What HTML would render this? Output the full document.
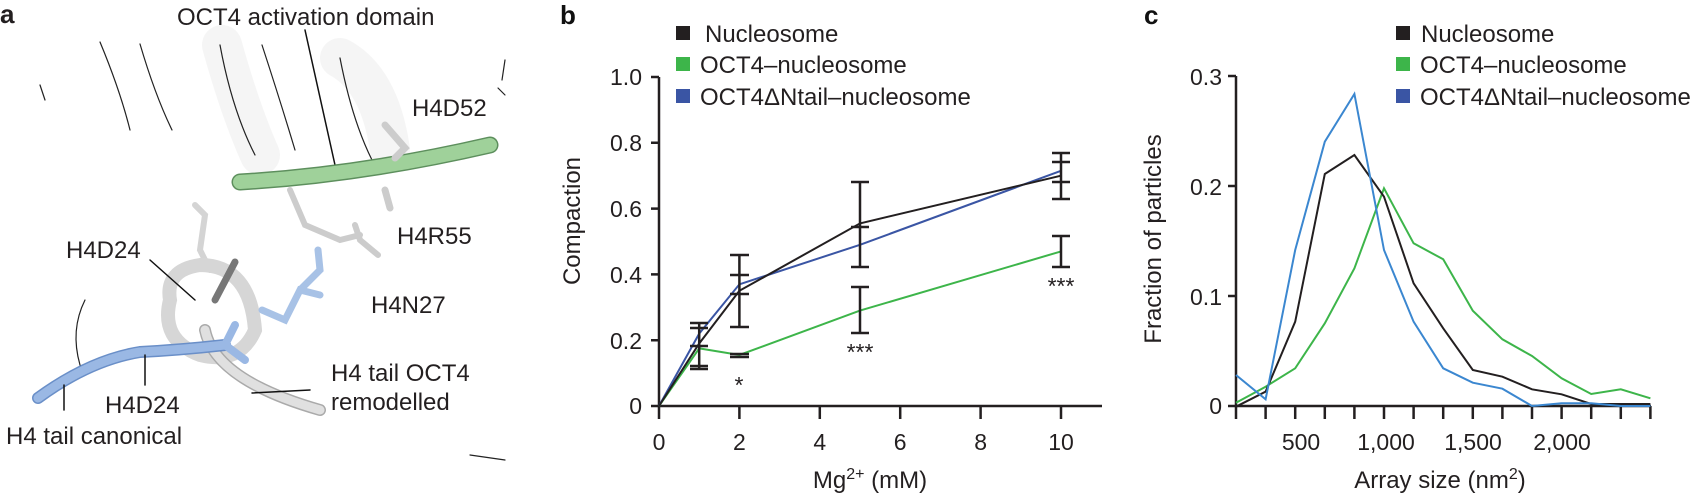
<!DOCTYPE html>
<html><head><meta charset="utf-8"><style>
html,body{margin:0;padding:0;background:#fff;}
svg{display:block;font-family:"Liberation Sans",Arial,sans-serif;}
</style></head><body>
<svg width="1691" height="493" viewBox="0 0 1691 493" xmlns="http://www.w3.org/2000/svg">
<!-- Panel a -->
<g fill="none" stroke-linecap="round">
  <path d="M100 42 Q120 90 130 130" stroke="#222" stroke-width="1.2"/>
  <path d="M140 44 Q155 95 172 130" stroke="#222" stroke-width="1.2"/>
  <path d="M40 85 L45 100" stroke="#222" stroke-width="1.2"/>
  <path d="M222 45 Q240 110 260 155" stroke="#eee" stroke-width="40" opacity="0.6"/>
  <path d="M220 45 Q232 110 255 155" stroke="#222" stroke-width="1.2"/>
  <path d="M262 45 Q280 100 295 150" stroke="#222" stroke-width="1.2"/>
  <path d="M340 58 Q380 80 390 150" stroke="#eee" stroke-width="40" opacity="0.6"/>
  <path d="M340 58 Q352 120 372 160" stroke="#222" stroke-width="1.2"/>
  <path d="M305 30 L335 165" stroke="#111" stroke-width="1.5"/>
  <path d="M505 60 L502 80 M498 88 L505 95" stroke="#222" stroke-width="1.2"/>
  <path d="M240 182 Q360 175 490 145" stroke="#5d8f5d" stroke-width="17"/>
  <path d="M240 182 Q360 175 490 145" stroke="#9fd19a" stroke-width="14"/>
  <path d="M385 125 L405 148 L395 158 M385 190 L390 208" stroke="#ccc" stroke-width="7"/>
  <path d="M290 190 L305 225 L340 240 L360 235 M355 225 L360 240 L378 255" stroke="#ccc" stroke-width="6"/>
  <path d="M195 205 L205 215 L200 250 L210 270" stroke="#d4d4d4" stroke-width="6"/>
  <path d="M170 300 Q165 270 200 265 Q250 265 255 330 Q240 365 200 355 Q160 340 170 300 Z" stroke="#d6d6d6" stroke-width="14"/>
  <path d="M205 330 Q215 380 320 410" stroke="#aaa" stroke-width="12"/>
  <path d="M205 330 Q215 380 320 410" stroke="#e0e0e0" stroke-width="9"/>
  <path d="M235 262 L215 300" stroke="#777" stroke-width="7"/>
  <path d="M38 398 Q90 360 140 352 Q180 350 225 345" stroke="#6a8fc8" stroke-width="12"/>
  <path d="M38 398 Q90 360 140 352 Q180 350 225 345" stroke="#9ab8e4" stroke-width="9"/>
  <path d="M225 345 L245 360 M225 345 L235 325" stroke="#9ab8e4" stroke-width="8"/>
  <path d="M262 310 L285 320 L300 290 L320 295 M300 290 L320 270 L318 250" stroke="#a8c2e6" stroke-width="7"/>
  <path d="M85 300 Q70 330 80 365" stroke="#222" stroke-width="1.2"/>
  <path d="M470 455 L505 460" stroke="#222" stroke-width="1.2"/>
  <path d="M150 260 L195 300" stroke="#111" stroke-width="1.5"/>
  <path d="M145 355 L145 385" stroke="#111" stroke-width="1.5"/>
  <path d="M64 385 L64 410" stroke="#111" stroke-width="1.5"/>
  <path d="M252 393 L310 390" stroke="#111" stroke-width="1.5"/>
</g>
<g font-size="24" fill="#231f20">
  <text x="0" y="23" font-size="26" font-weight="bold">a</text>
  <text x="177" y="25">OCT4 activation domain</text>
  <text x="412" y="116">H4D52</text>
  <text x="397" y="244">H4R55</text>
  <text x="371" y="313">H4N27</text>
  <text x="66" y="258">H4D24</text>
  <text x="105" y="413">H4D24</text>
  <text x="331" y="381">H4 tail OCT4</text>
  <text x="331" y="410">remodelled</text>
  <text x="6" y="444">H4 tail canonical</text>
</g>

<!-- Panel b -->
<text x="560" y="24" font-size="26" font-weight="bold" fill="#111">b</text>
<g stroke="#231f20" stroke-width="2.5" fill="none">
  <path d="M659 77 L659 406 L1102 406"/>
  <path d="M651 77 H659 M651 142.8 H659 M651 208.6 H659 M651 274.4 H659 M651 340.2 H659 M651 406 H659"/>
  <path d="M659 406 V419 M739.4 406 V419 M819.8 406 V419 M900.2 406 V419 M980.6 406 V419 M1061 406 V419"/>
</g>
<g font-size="23" fill="#231f20" text-anchor="end">
  <text x="642" y="85">1.0</text><text x="642" y="151">0.8</text><text x="642" y="217">0.6</text>
  <text x="642" y="283">0.4</text><text x="642" y="349">0.2</text><text x="642" y="414">0</text>
</g>
<g font-size="23" fill="#231f20" text-anchor="middle">
  <text x="659" y="450">0</text><text x="739.4" y="450">2</text><text x="819.8" y="450">4</text>
  <text x="900.2" y="450">6</text><text x="980.6" y="450">8</text><text x="1061" y="450">10</text>
</g>
<g font-size="24" fill="#231f20" text-anchor="middle">
  <text x="870" y="488">Mg<tspan font-size="16" dy="-9">2+</tspan><tspan dy="9"> (mM)</tspan></text>
  <text transform="translate(580 221) rotate(-90)">Compaction</text>
</g>
<g fill="none" stroke-width="2">
  <polyline points="659,406 699.2,348.4 739.4,355 860,310.6 1061,251.4" stroke="#3db54a"/>
  <polyline points="659,406 699.2,333.6 739.4,284.3 860,244.8 1061,170.8" stroke="#3a55a4"/>
  <polyline points="659,406 699.2,343.5 739.4,290.8 860,223.4 1061,175.7" stroke="#231f20"/>
</g>
<g stroke="#231f20" stroke-width="2.5" fill="none">
  <path d="M699.2 323 V369 M690 323 H708 M690 328 H708 M690 369 H708 M690 366 H708 M690 346 H708"/>
  <path d="M739.4 255 V327 M730 255 H749 M730 275 H749 M730 294 H749 M730 327 H749 M730 354 H749 M730 357 H749"/>
  <path d="M860 182 V267 M851 182 H869 M851 227 H869 M851 267 H869 M860 287 V333 M851 287 H869 M851 333 H869"/>
  <path d="M1061 153 V199 M1052 153 H1070 M1052 162 H1070 M1052 182 H1070 M1052 199 H1070 M1061 236 V267 M1052 236 H1070 M1052 267 H1070"/>
</g>
<g font-size="23" fill="#231f20" text-anchor="middle">
  <text x="739" y="393">*</text><text x="860" y="360">***</text><text x="1061" y="294">***</text>
</g>
<g font-size="24" fill="#231f20">
  <rect x="676" y="26" width="14" height="14" fill="#231f20"/><text x="705" y="42">Nucleosome</text>
  <rect x="676" y="57" width="14" height="14" fill="#3db54a"/><text x="700" y="73">OCT4–nucleosome</text>
  <rect x="676" y="89" width="14" height="14" fill="#3a55a4"/><text x="700" y="105">OCT4ΔNtail–nucleosome</text>
</g>

<!-- Panel c -->
<text x="1144" y="24" font-size="26" font-weight="bold" fill="#111">c</text>
<g stroke="#231f20" stroke-width="2.5" fill="none">
  <path d="M1236 76 L1236 406 L1651 406"/>
  <path d="M1228 76 H1236 M1228 186 H1236 M1228 296 H1236 M1228 406 H1236"/>
  <path d="M1236 406 V419 M1265.6 406 V419 M1295.2 406 V419 M1324.8 406 V419 M1354.4 406 V419 M1384 406 V419 M1413.6 406 V419 M1443.2 406 V419 M1472.8 406 V419 M1502.4 406 V419 M1532 406 V419 M1561.6 406 V419 M1591.2 406 V419 M1620.8 406 V419 M1650.4 406 V419"/>
</g>
<g font-size="23" fill="#231f20" text-anchor="end">
  <text x="1222" y="85">0.3</text><text x="1222" y="195">0.2</text><text x="1222" y="305">0.1</text><text x="1222" y="414">0</text>
</g>
<g font-size="23" fill="#231f20" text-anchor="middle">
  <text x="1301" y="450">500</text><text x="1386" y="450">1,000</text><text x="1473" y="450">1,500</text><text x="1562" y="450">2,000</text>
</g>
<g font-size="24" fill="#231f20" text-anchor="middle">
  <text x="1440" y="488">Array size (nm<tspan font-size="16" dy="-9">2</tspan><tspan dy="9">)</tspan></text>
  <text transform="translate(1161 239) rotate(-90)">Fraction of particles</text>
</g>
<g fill="none" stroke-width="2">
  <polyline stroke="#3db54a" points="1236,402.7 1265.6,386.7 1295.2,368.3 1324.8,323.3 1354.4,268.3 1384,188.3 1413.6,243.3 1443.2,259.3 1472.8,310.7 1502.4,339.3 1532,356 1561.6,378.3 1591.2,394 1620.8,389.3 1650.4,398.3"/>
  <polyline stroke="#231f20" points="1236,406.7 1265.6,391.7 1295.2,321.7 1324.8,174 1354.4,155 1384,196.7 1413.6,283.3 1443.2,328.3 1472.8,370 1502.4,376.7 1532,389.3 1561.6,394.3 1591.2,404 1620.8,404 1650.4,404"/>
  <polyline stroke="#3b87d0" points="1236,375 1265.6,399.3 1295.2,250 1324.8,141.7 1354.4,94 1384,250 1413.6,321.7 1443.2,368.3 1472.8,382.7 1502.4,388.7 1532,406 1561.6,403.3 1591.2,403.3 1620.8,406 1650.4,406"/>
</g>
<g font-size="24" fill="#231f20">
  <rect x="1396" y="26" width="14" height="14" fill="#231f20"/><text x="1421" y="42">Nucleosome</text>
  <rect x="1396" y="57" width="14" height="14" fill="#3db54a"/><text x="1420" y="73">OCT4–nucleosome</text>
  <rect x="1396" y="89" width="14" height="14" fill="#3a55a4"/><text x="1420" y="105">OCT4ΔNtail–nucleosome</text>
</g>
</svg>
</body></html>
